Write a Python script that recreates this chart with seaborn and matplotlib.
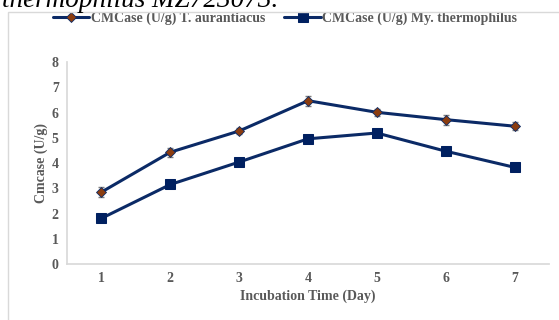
import pandas as pd
import seaborn as sns
import matplotlib.pyplot as plt
from matplotlib.patches import Rectangle

# datos
dias = [1, 2, 3, 4, 5, 6, 7]
t_aurantiacus = [2.85, 4.43, 5.27, 6.47, 6.01, 5.72, 5.46]
t_aurantiacus_err = [0.2, 0.18, 0.12, 0.2, 0.14, 0.2, 0.17]
my_thermophilus = [1.81, 3.15, 4.04, 4.96, 5.19, 4.47, 3.83]

lab1 = "CMCase (U/g) T. aurantiacus"
lab2 = "CMCase (U/g) My. thermophilus"

df = pd.DataFrame({"Dia": dias, "T": t_aurantiacus, "My": my_thermophilus})

sns.set_theme(style="white")
plt.rcParams["font.family"] = ["Liberation Serif", "DejaVu Serif"]

gris = "#595959"
azul = "#0b2a66"

fig = plt.figure(figsize=(5.59, 3.20), dpi=100)
ax = fig.add_axes([0.12, 0.175, 0.862, 0.631])

ax.errorbar(df["Dia"], df["T"], yerr=t_aurantiacus_err, fmt="none",
            ecolor="#7f7f7f", elinewidth=1, capsize=2.5, capthick=1, zorder=2)
sns.lineplot(data=df, x="Dia", y="T", ax=ax, color=azul, linewidth=2.2,
             marker="D", markersize=5.5, markerfacecolor="#8b3d10",
             markeredgecolor=azul, markeredgewidth=0.6, label=lab1, zorder=3)
sns.lineplot(data=df, x="Dia", y="My", ax=ax, color=azul, linewidth=2.2,
             marker="s", markersize=7.3, markerfacecolor="#002060",
             markeredgecolor="#002060", label=lab2, zorder=3)

ax.set_xlim(0.5, 7.5)
ax.set_ylim(0, 8)
ax.set_xticks(dias)
ax.set_yticks(range(0, 9))
ax.tick_params(axis="both", length=0, labelsize=10, labelcolor=gris, pad=6)
for t in ax.get_xticklabels() + ax.get_yticklabels():
    t.set_fontweight("bold")

for s in ["top", "right"]:
    ax.spines[s].set_visible(False)
ax.spines["left"].set_color("#d9d9d9")
ax.spines["bottom"].set_color("#d9d9d9")

ax.set_xlabel("Incubation Time (Day)", fontsize=10, fontweight="bold", color=gris, labelpad=3)
ax.set_ylabel("Cmcase (U/g)", fontsize=10, fontweight="bold", color=gris, labelpad=3)

ax.legend(loc="center", bbox_to_anchor=(0.51, 0.942), bbox_transform=fig.transFigure,
          ncol=2, frameon=False, handlelength=2.6, handletextpad=0.1, columnspacing=1.4,
          borderpad=0.1, prop={"size": 10, "weight": "bold"}, labelcolor=gris)

# marco del grafico y texto de la leyenda superior
fig.patches.append(Rectangle((7.5 / 559, -0.01), 1.0, 1 - 12 / 320 + 0.01,
                             transform=fig.transFigure, fill=False,
                             edgecolor="#d9d9d9", linewidth=1))
fig.text(0.004, 1 - 7 / 320, "thermophilus MZ723073.", fontsize=19.5,
         style="italic", color="black", va="baseline", ha="left")

fig.savefig("out.png", dpi=100)
